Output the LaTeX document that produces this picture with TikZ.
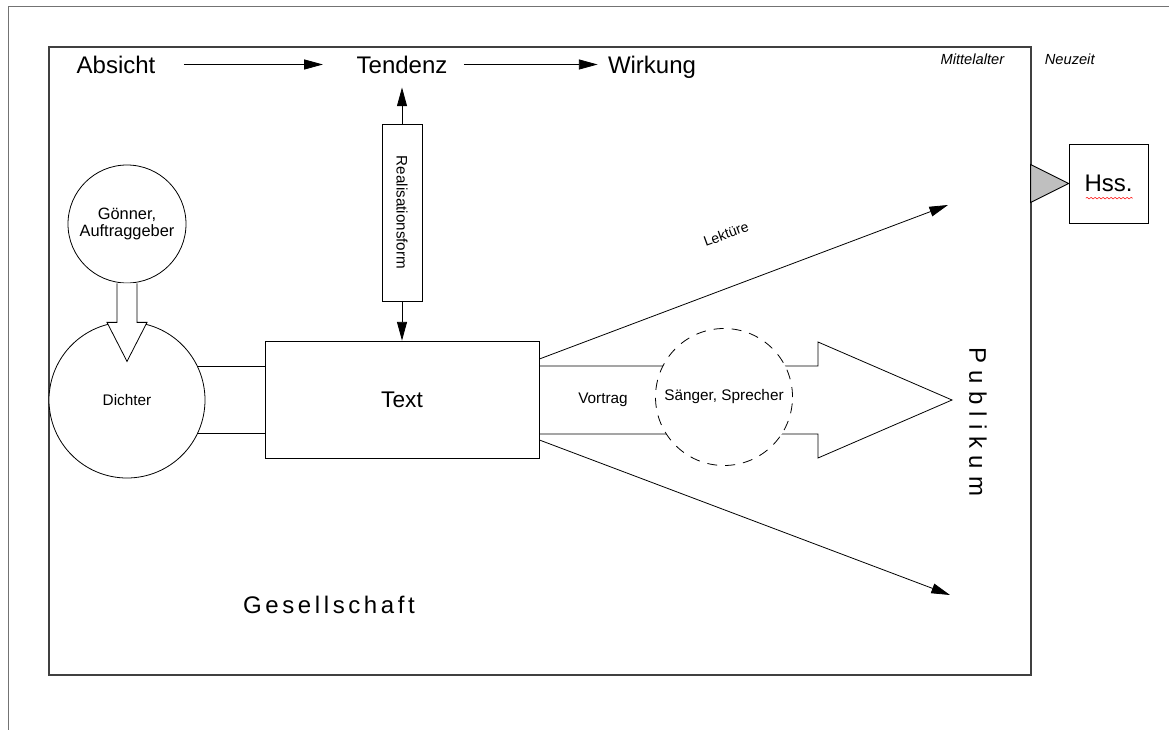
\documentclass[tikz,border=0pt]{standalone}
\usepackage{fontspec}
\setmainfont{Liberation Sans}
\newfontfamily\sperrfont[LetterSpace=15]{Liberation Sans}
\newfontfamily\sperrfontweit[LetterSpace=30]{Liberation Sans}
\usetikzlibrary{positioning}
\usetikzlibrary{arrows.meta}
\usetikzlibrary{decorations.pathmorphing}

\tikzset{
  gross/.style={inner sep=0pt, text height=12.9pt, text depth=0pt,
    font=\fontsize{18}{20}\selectfont},
  klein/.style={font=\fontsize{11.5}{13}\selectfont, align=center},
  pfeil/.style={-{Triangle[length=14pt,width=7.5pt]}},
  kreis/.style={draw, circle, fill=white, inner sep=0pt},
}

\begin{document}
\begin{tikzpicture}[x=0.75pt, y=-0.75pt, line width=0.6pt]
  \useasboundingbox (0,0) rectangle (1169,730);
  % Seite und Rahmen
  \draw[black!55] (8,730) -- (8,6) -- (1169,6);
  \draw[black!75, line width=0.9pt] (49,47) rectangle (1031,675);

  % obere Zeile
  \node[gross] (absicht) at (116,64.5) {Absicht};
  \node[gross] (tendenz) at (402,64.5) {Tendenz};
  \node[gross] (wirkung) at (652,64.5) {Wirkung};
  \draw[pfeil, shorten <=21pt, shorten >=25pt] (absicht) -- (tendenz);
  \draw[pfeil, shorten <=12pt, shorten >=7.5pt] (tendenz) -- (wirkung);

  \node[anchor=east, font=\itshape\fontsize{11}{13}\selectfont] (mittelalter) at (1009,59) {Mittelalter};
  \node[anchor=west, font=\itshape\fontsize{11}{13}\selectfont] (neuzeit) at (1040,59) {Neuzeit};

  % Realisationsform
  \node[draw, fill=white, inner sep=0pt, minimum width=30pt, minimum height=132.75pt,
    font=\fontsize{11.4}{13}\selectfont] (real) at (402,212.5) {\rotatebox{-90}{Realisationsform}};
  \node[draw, minimum width=205.5pt, minimum height=87.75pt,
    font=\fontsize{17}{20}\selectfont] (textfeld) at (402,399.5) {Text};
  \draw[pfeil, shorten >=10.5pt] (real.north) -- (tendenz.south);
  \draw[pfeil] (real.south) -- (real.south |- textfeld.north);

  % Dichter und Goenner
  \node[kreis, minimum size=117pt, klein] (dichter) at (127,400) {Dichter};
  \node[kreis, minimum size=88.5pt, font=\fontsize{12.3}{13}\selectfont, align=center] (goenner) at (127,224) {Gönner,\\Auftraggeber};
  \draw[fill=white] (goenner.south) ++(-10,0) -- ++(0,39) -- ++(-10,0) -- ++(20,39)
    -- ++(20,-39) -- ++(-10,0) -- ++(0,-39);
  \draw (dichter.25.8) -- (dichter.25.8 -| textfeld.west);
  \draw (dichter.-25.8) -- (dichter.-25.8 -| textfeld.west);

  % Vortrag
  \draw (textfeld.east |- 0,366) -- (818,366) -- (818,342) -- (952,400)
    -- (818,458) -- (818,434) -- (textfeld.east |- 0,434);
  \node[kreis, dash pattern=on 7.5pt off 6pt, minimum size=102.75pt, klein] (saenger) at (724,397) {Sänger, Sprecher};
  \node[klein] (vortrag) at (603,400) {Vortrag};

  % Lektuere
  \coordinate (oben) at (948,205);
  \coordinate (unten) at (950,595);
  \draw[pfeil] (textfeld.east |- 0,359) -- (oben);
  \draw[pfeil] (textfeld.east |- 0,440) -- (unten);
  \node[rotate=20, font=\fontsize{10.5}{12}\selectfont] (lektuere) at (726,234) {Lektüre};

  \node[rotate=-90, font=\sperrfontweit\fontsize{18}{20}\selectfont] (publikum) at (978,422) {Publikum};
  \node[font=\sperrfont\fontsize{18}{20}\selectfont] (gesellschaft) at (329,605) {Gesellschaft};

  % Handschriften
  \node[draw, fill=white, minimum size=59.25pt, font=\fontsize{18}{20}\selectfont] (hss) at (1108.5,183.5) {Hss.};
  \draw[fill=black!25] (hss.west) -- ++(-38,-19) -- ++(0,38) -- cycle;
  \draw[red, line width=0.4pt, decorate, decoration={snake, amplitude=0.6pt, segment length=3pt}]
    ([xshift=-17pt,yshift=-11pt]hss.center) -- ++(47,0);
\end{tikzpicture}
\end{document}
